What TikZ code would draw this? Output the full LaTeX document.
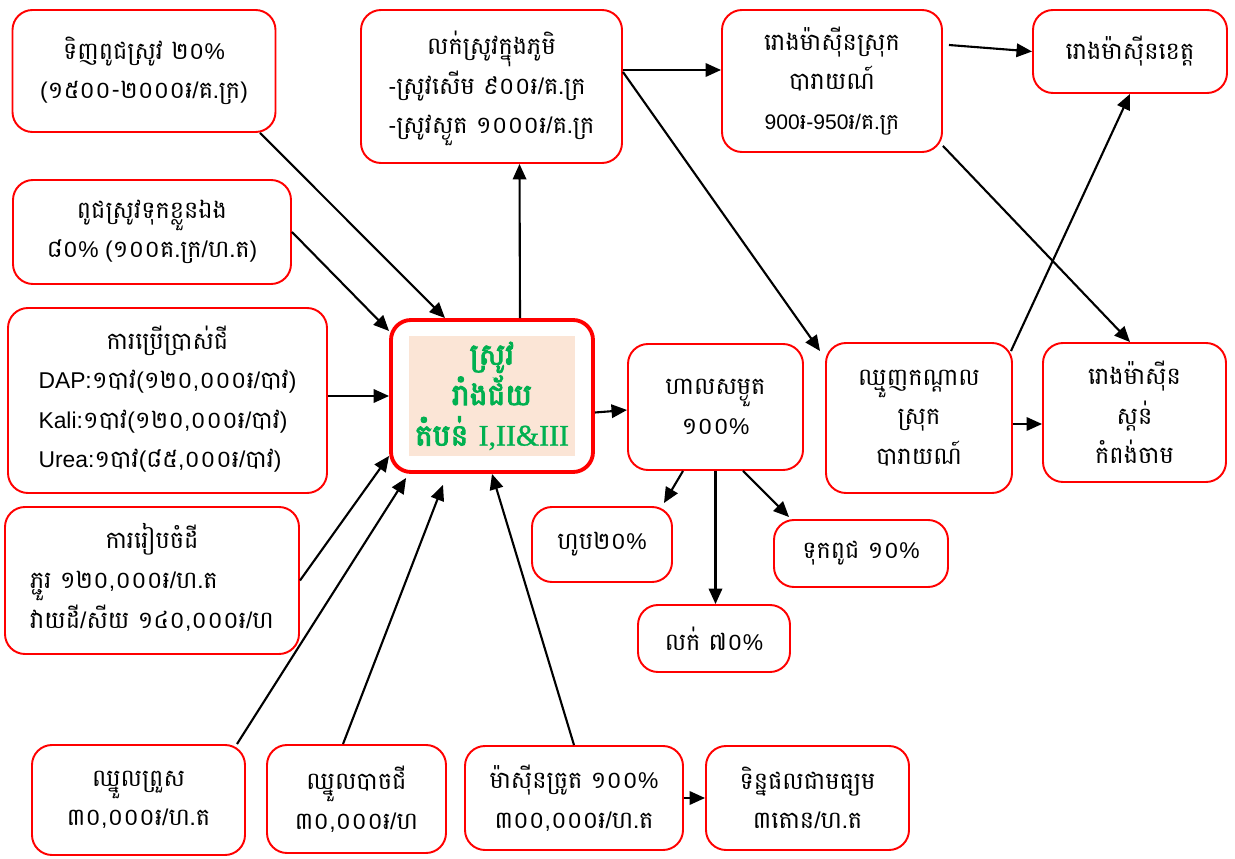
\documentclass[tikz,border=0pt]{standalone}
\usepackage{fontspec}
\setmainfont{Liberation Sans}
\newfontfamily\khfont[Script=Khmer,Scale=1.05]{Battambang}
\newfontfamily\khbold[Script=Khmer,FakeBold=3]{Battambang}
\newfontfamily\romanbold[FakeBold=1]{Liberation Serif}
\newcommand{\kh}[1]{{\khfont #1}}
\usetikzlibrary{arrows.meta,calc}
\definecolor{boxred}{RGB}{255,0,0}
\definecolor{peach}{RGB}{251,229,214}
\definecolor{ricegreen}{RGB}{0,176,80}
\tikzstyle{flowbox}=[draw=boxred, line width=1.1pt, rounded corners=4mm,
  align=center, inner sep=0pt, font=\fontsize{13pt}{22.5pt}\selectfont]
\tikzstyle{ricebox}=[flowbox, line width=2.2pt, minimum width=4.04cm,
  minimum height=3.04cm]
\tikzstyle{ricetag}=[fill=peach, minimum width=3.04cm, minimum height=2.32cm,
  align=center, text=ricegreen, font=\fontsize{17pt}{23pt}\selectfont]
\tikzstyle{flow}=[-{Triangle[length=3.1mm,width=2.7mm]}, line width=1.2pt]
\newcommand{\flowbox}[4]{node (#1) [flowbox, minimum width=#2cm,
  minimum height=#3cm] {#4}}
\newcommand{\lefttab}[2]{\begin{tabular}{@{}l@{}}\multicolumn{1}{@{}c@{}}{#1}\\#2\end{tabular}}

\begin{document}
\begin{tikzpicture}
  \useasboundingbox (0,0) rectangle (24.7,-17.18);

  % inputs on the left and below
  \path (2.88,-1.42) \flowbox{buyseed}{5.26}{2.44}{\kh{ទិញពូជស្រូវ ២០}\%\\(\kh{១៥០០-២០០០៛}/\kh{គ.ក្រ})};
  \path (3.04,-4.64) \flowbox{ownseed}{5.56}{2.08}{\kh{ពូជស្រូវទុកខ្លួនឯង}\\\kh{៨០}\% (\kh{១០០គ.ក្រ}/\kh{ហ.ត})};
  \path (3.35,-8.01) \flowbox{fert}{6.38}{3.70}{\lefttab{\kh{ការប្រើប្រាស់ជី}}{%
    DAP:\kh{១បាវ}(\kh{១២០},\kh{០០០៛}/\kh{បាវ})\\
    Kali:\kh{១បាវ}(\kh{១២០},\kh{០០០៛}/\kh{បាវ})\\
    Urea:\kh{១បាវ}(\kh{៨៥},\kh{០០០៛}/\kh{បាវ})}};
  \path (3.04,-11.61) \flowbox{landprep}{5.88}{2.94}{\lefttab{\kh{ការរៀបចំដី}}{%
    \kh{ភ្ជួរ ១២០},\kh{០០០៛}/\kh{ហ.ត}\\
    \kh{វាយដី}/\kh{សីយ ១៤០},\kh{០០០៛}/\kh{ហ}}};
  \path (2.77,-16.00) \flowbox{spray}{4.26}{2.20}{\kh{ឈ្នួលព្រួស}\\\kh{៣០},\kh{០០០៛}/\kh{ហ.ត}};
  \path (7.13,-15.98) \flowbox{labor}{3.58}{2.16}{\kh{ឈ្នួលបាចជី}\\\kh{៣០},\kh{០០០៛}/\kh{ហ}};
  \path (11.48,-15.96) \flowbox{harvest}{4.36}{2.08}{\kh{ម៉ាស៊ីនច្រូត ១០០}\%\\\kh{៣០០},\kh{០០០៛}/\kh{ហ.ត}};
  \path (16.15,-15.96) \flowbox{yield}{4.06}{2.08}{\kh{ទិន្នផលជាមធ្យម}\\\kh{៣តោន}/\kh{ហ.ត}};

  % the rice in the middle
  \path (9.84,-7.92) node (rice) [ricebox] {};
  \path (rice) node (ricename) [ricetag] {\khbold ស្រូវ\\\khbold រាំងជ័យ\\\khbold តំបន់ {\romanbold I,II\&III}};

  % where it goes
  \path (9.83,-1.73) \flowbox{sellvil}{5.22}{3.06}{\lefttab{\kh{លក់ស្រូវក្នុងភូមិ}}{%
    -\kh{ស្រូវសើម ៩០០៛}/\kh{គ.ក្រ}\\
    -\kh{ស្រូវស្ងួត ១០០០៛}/\kh{គ.ក្រ}}};
  \path (16.64,-1.62) \flowbox{distmill}{4.40}{2.84}{\kh{រោងម៉ាស៊ីនស្រុក}\\\kh{បារាយណ៍}\\{\fontsize{12pt}{22pt}\selectfont 900\kh{៛}-950\kh{៛}/\kh{គ.ក្រ}}};
  \path (22.60,-1.03) \flowbox{provmill}{3.88}{1.66}{\kh{រោងម៉ាស៊ីនខេត្ត}};
  \path (14.31,-8.14) \flowbox{drying}{3.50}{2.52}{\kh{ហាលសម្ងួត}\\\kh{១០០}\%};
  \path (18.38,-8.36) \flowbox{middle}{3.72}{3.00}{\kh{ឈ្មួញកណ្ដាល}\\\kh{ស្រុក}\\\kh{បារាយណ៍}};
  \path (22.69,-8.25) \flowbox{stungmill}{3.66}{2.78}{\kh{រោងម៉ាស៊ីន}\\\kh{ស្ដន់}\\\kh{កំពង់ចាម}};
  \path (12.04,-10.89) \flowbox{eat}{2.80}{1.50}{\kh{ហូប២០}\%};
  \path (17.22,-11.07) \flowbox{keepseed}{3.48}{1.34}{\kh{ទុកពូជ ១០}\%};
  \path (14.28,-12.77) \flowbox{sell70}{3.04}{1.34}{\kh{លក់ ៧០}\%};

  \draw [flow] ([xshift=2.32cm]buyseed.south) -- ([xshift=-0.94cm]rice.north);
  \draw [flow] (ownseed.east) -- ([yshift=1.3cm]rice.west);
  \draw [flow] (fert.east |- rice.west) -- (rice.west);
  \draw [flow] (landprep.east) -- ([yshift=0.36cm]rice.south west);
  \draw [flow] ([xshift=1.97cm]spray.north) -- ([xshift=0.34cm,yshift=-0.08cm]rice.south west);
  \draw [flow] ([xshift=-0.27cm]labor.north) -- ([xshift=-0.98cm,yshift=-0.22cm]rice.south);
  \draw [flow] (harvest.north) -- (rice.south);
  \draw [flow] ([xshift=0.56cm]rice.north) -- ([xshift=0.56cm]sellvil.south);
  \draw [flow] ([yshift=-0.33cm]rice.east) -- ([yshift=-0.06cm]drying.west);
  \draw [flow] ([yshift=0.33cm]sellvil.east) -- ([yshift=0.22cm]distmill.west);
  \draw [flow] ([yshift=0.29cm]sellvil.east) -- ([xshift=-0.1cm,yshift=-0.18cm]middle.north west);
  \draw [flow] ([xshift=0.12cm,yshift=0.72cm]distmill.east) -- (provmill.west);
  \draw [flow] ([yshift=0.14cm]distmill.south east) -- ([xshift=-0.09cm]stungmill.north);
  \draw [flow] ([xshift=-0.04cm,yshift=-0.18cm]middle.north east) -- (provmill.south);
  \draw [flow] ([yshift=-0.12cm]middle.east) -- ([yshift=-0.23cm]stungmill.west);
  \draw [flow] ([xshift=-0.65cm]drying.south) -- ([xshift=-0.18cm,yshift=0.06cm]eat.north east);
  \draw [flow] (drying.south) -- (drying.south |- sell70.north);
  \draw [flow] ([xshift=0.55cm]drying.south) -- ([xshift=0.32cm,yshift=0.04cm]keepseed.north west);
  \draw [flow] (harvest.east) -- (yield.west);
\end{tikzpicture}
\end{document}
